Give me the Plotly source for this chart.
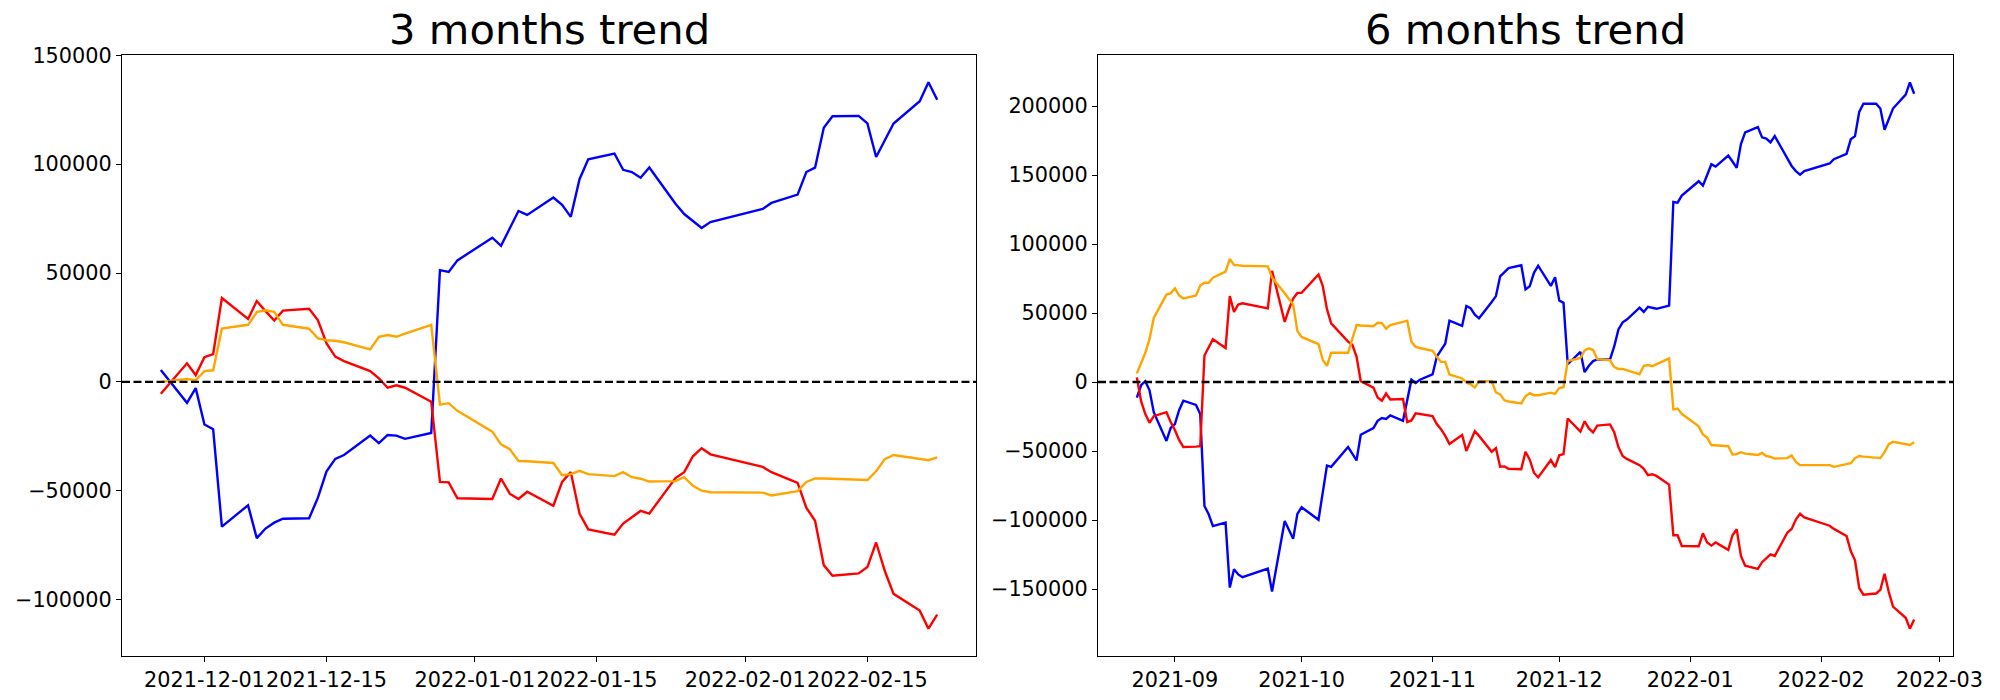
import pandas as pd
import plotly.graph_objects as go

# ---------------- data: 6 months (trading days) ----------------
DATES_6M = [
    "2021-08-23", "2021-08-24", "2021-08-25", "2021-08-26", "2021-08-27", "2021-08-30", "2021-08-31",
    "2021-09-01", "2021-09-02", "2021-09-03", "2021-09-06", "2021-09-07", "2021-09-08", "2021-09-09",
    "2021-09-10", "2021-09-13", "2021-09-14", "2021-09-15", "2021-09-16", "2021-09-17", "2021-09-23",
    "2021-09-24", "2021-09-27", "2021-09-28", "2021-09-29", "2021-09-30",
    "2021-10-01", "2021-10-05", "2021-10-06", "2021-10-07", "2021-10-08", "2021-10-12", "2021-10-13",
    "2021-10-14", "2021-10-15", "2021-10-18", "2021-10-19", "2021-10-20", "2021-10-21", "2021-10-22",
    "2021-10-25", "2021-10-26", "2021-10-27", "2021-10-28", "2021-10-29",
    "2021-11-01", "2021-11-02", "2021-11-03", "2021-11-04", "2021-11-05", "2021-11-08", "2021-11-09",
    "2021-11-10", "2021-11-11", "2021-11-12", "2021-11-15", "2021-11-16", "2021-11-17", "2021-11-18",
    "2021-11-19", "2021-11-22", "2021-11-23", "2021-11-24", "2021-11-25", "2021-11-26", "2021-11-29",
    "2021-11-30",
    "2021-12-01", "2021-12-02", "2021-12-03", "2021-12-06", "2021-12-07", "2021-12-08", "2021-12-09",
    "2021-12-10", "2021-12-13", "2021-12-14", "2021-12-15", "2021-12-16", "2021-12-17", "2021-12-20",
    "2021-12-21", "2021-12-22", "2021-12-23", "2021-12-24", "2021-12-27", "2021-12-28", "2021-12-29",
    "2021-12-30",
    "2022-01-03", "2022-01-04", "2022-01-05", "2022-01-06", "2022-01-07", "2022-01-10", "2022-01-11",
    "2022-01-12", "2022-01-13", "2022-01-14", "2022-01-17", "2022-01-18", "2022-01-19", "2022-01-20",
    "2022-01-21", "2022-01-24", "2022-01-25", "2022-01-26", "2022-01-27", "2022-01-28",
    "2022-02-03", "2022-02-04", "2022-02-07", "2022-02-08", "2022-02-09", "2022-02-10", "2022-02-11",
    "2022-02-14", "2022-02-15", "2022-02-16", "2022-02-17", "2022-02-18", "2022-02-21", "2022-02-22",
    "2022-02-23",
]

BLUE_6M = [
    -11200, -2300, 600, -6000, -21800, -42700, -33300,
    -30400, -20400, -13500, -16600, -23200, -89800, -95800, -104400, -101800, -148900, -135700,
    -139400, -141400, -135100, -151800, -100700, -107300, -113600, -95500,
    -90700, -99800, -79200, -60500, -61400, -47100, -51900, -56800, -38200, -33300, -28100, -26100,
    -26700, -24100, -28100, -13200, 1700, -600, 1700,
    5500, 18400, 23200, 27800, 44500, 40700, 55100, 53600, 48800, 46200, 58000, 62300, 76600, 80000,
    82600, 84600, 67100, 69400, 79200, 84300, 69700, 76000,
    59100, 57400, 12900, 21800, 7200, 11800, 15200, 16400, 16400, 25800, 38200, 43300, 45300, 53900,
    50800, 54500, 53700, 53100, 55400, 130500, 130000, 135100,
    145500, 142300, 150000, 157800, 156100, 164100, 159800, 155200, 172400, 181000, 184800, 177300,
    176400, 173600, 178200, 162100, 156600, 152900, 150300, 152900,
    158400, 161500, 165300, 175900, 178200, 195700, 201700, 201700, 198200, 182800, 190500, 198200,
    208300, 217200, 208900,
]

RED_6M = [
    3400, -13800, -23200, -29500, -24700, -21800, -29000,
    -34700, -41900, -47100, -46800, -46500, 19200, 24700, 31000, 24700, 62300, 50800, 56200, 57100,
    53400, 80600, 43600, 52800, 60500, 64600,
    64600, 78000, 69700, 52800, 42500, 29300, 27000, 18400, 600, -4000, -11200, -13500, -8300,
    -12600, -12300, -29000, -27800, -22700, -23200,
    -24700, -30400, -34100, -39000, -44800, -38400, -49900, -42700, -35600, -39000, -50500, -47900,
    -61400, -61100, -62800, -63100, -50500, -56200, -65700, -69100, -56500, -61700,
    -53100, -52200, -26400, -35900, -28400, -33600, -36400, -31600, -30700, -36400, -47100, -53600,
    -55700, -60200, -62800, -67400, -66800, -68000, -74300, -111000, -111000, -118800,
    -119000, -109600, -116200, -118500, -116200, -121600, -111000, -106700, -126000, -133100,
    -135400, -130500, -127700, -124800, -126000, -109000, -106400, -99600, -95500, -98100,
    -104100, -106400, -111600, -122500, -129100, -149200, -154100, -153200, -150600, -138900,
    -152100, -162700, -170800, -178700, -172100,
]

ORANGE_6M = [
    6300, 14100, 21200, 31300, 46500, 63400, 64300,
    68000, 62800, 60500, 62800, 70000, 72000, 72000, 75700, 80000, 89200, 84900, 84600, 84300,
    83800, 75700, 64300, 60000, 56200, 37000,
    32700, 27500, 16100, 11800, 21200, 21200, 31300, 41300, 41000, 40500, 43000, 42700, 38700,
    41300, 43600, 44500, 29300, 25500, 24700,
    22700, 18400, 14600, 14600, 5500, 2600, -300, -1700, -4000, 600, 600, -7500, -8900, -13200,
    -14100, -15500, -10300, -8000, -9500, -9500, -7700, -8600,
    -4300, -3700, 15200, 17500, 23000, 24400, 23200, 16600, 15800, 10900, 9500, 9500, 8600, 5700,
    11800, 12300, 11500, 12900, 17200, -19800, -19200, -23000,
    -32100, -37900, -40200, -45600, -45900, -46500, -52500, -52200, -50800, -51900, -52800, -51400,
    -53600, -54200, -55400, -55100, -53100, -57900, -60200, -60200,
    -60200, -61400, -59400, -58800, -55100, -53600, -54000, -55100, -55100, -50800, -45000, -43300,
    -45000, -45600, -43600,
]

# ---------------- data: 3 months (trading days) ----------------
DATES_3M = DATES_6M[DATES_6M.index("2021-11-26"):]

BLUE_3M = [
    5450, -9640, -2900,
    -19600, -21800, -66500, -56700, -71800, -67400, -64700, -62900, -62700, -53300, -41100, -35400,
    -33600, -24700, -28200, -24400, -24700, -26200, -23500, 51300, 50500, 55800,
    66200, 62500, 70500, 78500, 76700, 84700, 81300, 75800, 93100, 102200, 104900, 97400, 96400,
    93800, 98500, 81800, 77100, 73800, 70700, 73400,
    79400, 82200, 86000, 96400, 98400, 116700, 122000, 122200, 118700, 103300, 111300, 118700,
    128900, 137600, 129600,
]

RED_3M = [
    -5450, 8500, 3100,
    11300, 12700, 38500, 28900, 37100, 32500, 28200, 32700, 33600, 28400, 17600, 11600, 9500, 4900,
    1600, -2700, -1600, -2700, -9100, -46000, -46200, -53500,
    -53800, -44400, -51400, -53800, -50500, -56900, -46000, -41500, -60500, -67800, -70200, -65100,
    -62400, -59300, -60500, -44200, -41500, -34200, -30500, -33300,
    -39100, -41500, -46400, -57800, -63800, -84200, -89100, -88000, -85100, -73800, -86900, -97400,
    -105100, -113400, -106900,
]

ORANGE_3M = [
    0, 1300, 700,
    4900, 5300, 24500, 26200, 32000, 32900, 32200, 26200, 24400, 20000, 19100, 18900, 18200, 14900,
    20700, 21500, 20700, 22200, 26200, -10500, -9800, -13300,
    -22900, -28700, -30900, -36400, -36500, -37300, -42900, -42400, -40900, -42400, -43300, -41500,
    -43800, -44500, -45800, -45600, -43800, -47800, -50000, -50700,
    -50900, -52200, -50200, -46000, -44400, -44400, -44500, -44900, -45100, -41100, -35500, -33600,
    -35600, -36000, -34700,
]

TITLES = ["3 months trend", "6 months trend"]
TICKS_3M = ["2021-12-01", "2021-12-15", "2022-01-01", "2022-01-15", "2022-02-01", "2022-02-15"]
TICKS_6M = ["2021-09-01", "2021-10-01", "2021-11-01", "2021-12-01", "2022-01-01", "2022-02-01", "2022-03-01"]
TICKTEXT_6M = ["2021-09", "2021-10", "2021-11", "2021-12", "2022-01", "2022-02", "2022-03"]

# ---------------- layout helpers ----------------
W, H = 2000, 700
FONT = "DejaVu Sans"
TICK_SIZE = 20.8
TITLE_SIZE = 41.7
LW = 2.4
AX_TOP, AX_BOTTOM = 55, 656
AX_X = [(122, 976), (1098, 1953)]


def pad_range(*series):
    vals = [v for s in series for v in s]
    lo, hi = min(vals), max(vals)
    m = 0.05 * (hi - lo)
    return [lo - m, hi + m]


def date_pad_range(dates):
    d = pd.to_datetime(dates)
    span = d.max() - d.min()
    lo = d.min() - 0.05 * span
    hi = d.max() + 0.05 * span
    return [lo.strftime("%Y-%m-%d %H:%M:%S"), hi.strftime("%Y-%m-%d %H:%M:%S")]


fig = go.Figure()

panels = [
    (DATES_3M, BLUE_3M, RED_3M, ORANGE_3M, TICKS_3M, TICKS_3M),
    (DATES_6M, BLUE_6M, RED_6M, ORANGE_6M, TICKS_6M, TICKTEXT_6M),
]

for i, (dates, blue, red, orange, tv, tt) in enumerate(panels):
    xa = "x" if i == 0 else "x2"
    ya = "y" if i == 0 else "y2"
    for vals, col in ((blue, "blue"), (red, "red"), (orange, "orange")):
        fig.add_trace(go.Scatter(
            x=dates, y=vals, mode="lines", xaxis=xa, yaxis=ya,
            line=dict(color=col, width=LW), showlegend=False, hoverinfo="skip",
        ))
    x0, x1 = AX_X[i]
    common_axis = dict(
        showline=True, mirror=True, linecolor="black", linewidth=1.1,
        ticks="outside", ticklen=5, tickwidth=1.1, tickcolor="black",
        showgrid=False, zeroline=False, automargin=False,
        tickfont=dict(family=FONT, size=TICK_SIZE, color="black"),
    )
    xkey = "xaxis" if i == 0 else "xaxis2"
    ykey = "yaxis" if i == 0 else "yaxis2"
    fig.update_layout(**{
        xkey: dict(
            common_axis, type="date", domain=[x0 / W, x1 / W],
            range=date_pad_range(dates), tickvals=tv, ticktext=tt, tickangle=0,
            anchor=ya,
        ),
        ykey: dict(
            common_axis, domain=[(H - AX_BOTTOM) / H, (H - AX_TOP) / H],
            range=pad_range(blue, red, orange), tick0=0, dtick=50000, tickformat="d",
            anchor=xa,
        ),
    })
    fig.add_shape(
        type="line", xref=f"{xa} domain", x0=0, x1=1, yref=ya, y0=0, y1=0,
        line=dict(color="black", width=LW, dash="8px,3.5px"),
    )
    fig.add_annotation(
        text=TITLES[i], xref="paper", yref="paper",
        x=(x0 + x1) / 2 / W, y=(H - 30) / H, xanchor="center", yanchor="middle",
        showarrow=False, font=dict(family=FONT, size=TITLE_SIZE, color="black"),
    )

fig.update_layout(
    width=W, height=H, autosize=False, margin=dict(l=0, r=0, t=0, b=0, autoexpand=False),
    paper_bgcolor="white", plot_bgcolor="white",
    font=dict(family=FONT, color="black"),
)

fig.write_html(
    "out.html",
    config={"displayModeBar": False, "responsive": False},
    post_script="document.body.style.margin='0';document.body.style.overflow='hidden';",
)
